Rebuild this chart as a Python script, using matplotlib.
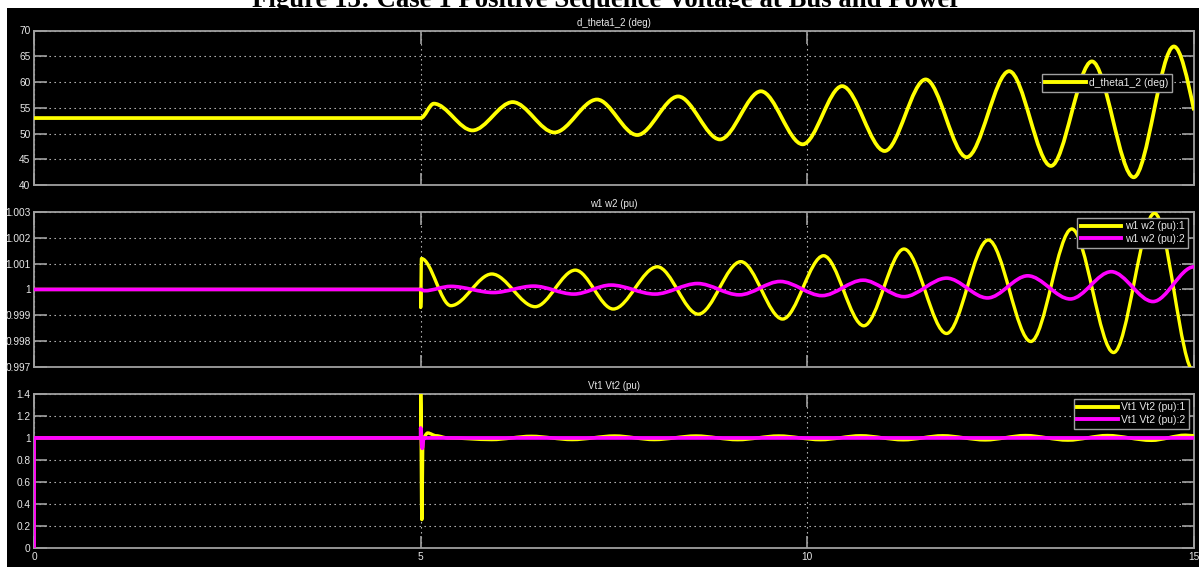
import matplotlib
matplotlib.use("Agg")
import matplotlib.pyplot as plt
from matplotlib.path import Path
from matplotlib.patches import PathPatch, Rectangle
from matplotlib.lines import Line2D

# ---------------- data ----------------
fig_title = "Figure 13: Case 1 Positive Sequence Voltage at Bus and Power"
x_ticks = [0, 5, 10, 15]
x_ticklabels = ["0", "5", "10", "15"]

theta_title = "d_theta1_2 (deg)"
theta_label = "d_theta1_2 (deg)"
theta_t = [0, 5.0, 5.17, 5.67, 6.19, 6.73, 7.28, 7.80, 8.33, 8.87, 9.40, 9.94,
           10.45, 11.00, 11.53, 12.06, 12.61, 13.15, 13.68, 14.22, 14.74, 15.0]
theta_v = [53.0, 53.0, 55.8, 50.6, 56.1, 50.2, 56.6, 49.7, 57.2, 48.85, 58.2, 47.9,
           59.2, 46.6, 60.5, 45.4, 62.1, 43.7, 64.0, 41.5, 66.9, 54.5]
theta_yticks = [40, 45, 50, 55, 60, 65, 70]
theta_yticklabels = ["40", "45", "50", "55", "60", "65", "70"]

w_title = "w1 w2 (pu)"
w_labels = ["w1 w2 (pu):1", "w1 w2 (pu):2"]
w1_t = [0, 5.0, 5.0, 5.01, 5.39, 5.92, 6.48, 7.0, 7.49, 8.06, 8.59, 9.14, 9.68,
        10.21, 10.73, 11.25, 11.80, 12.34, 12.89, 13.42, 13.96, 14.49, 15.0]
w1_v = [1.0, 1.0, 0.9993, 1.0012, 0.99937, 1.0006, 0.99933, 1.00075, 0.99924,
        1.00088, 0.99904, 1.00108, 0.99885, 1.00131, 0.99859, 1.00157, 0.99829,
        1.00192, 0.99798, 1.00235, 0.99755, 1.00296, 0.9968]
w2_t = [0, 5.0, 5.05, 5.39, 5.94, 6.46, 6.98, 7.46, 8.03, 8.58, 9.12, 9.65, 10.19,
        10.72, 11.25, 11.80, 12.33, 12.85, 13.40, 13.93, 14.47, 15.0]
w2_v = [1.0, 1.0, 0.99995, 1.00012, 0.99988, 1.00013, 0.99982, 1.00017, 0.99982,
        1.00023, 0.99979, 1.00031, 0.99976, 1.00036, 0.99972, 1.00044, 0.99967,
        1.00053, 0.99963, 1.00069, 0.99953, 1.00088]
w_yticks = [0.997, 0.998, 0.999, 1.0, 1.001, 1.002, 1.003]
w_yticklabels = ["0.997", "0.998", "0.999", "1", "1.001", "1.002", "1.003"]

vt_title = "Vt1 Vt2 (pu)"
vt_labels = ["Vt1 Vt2 (pu):1", "Vt1 Vt2 (pu):2"]
vt1_t = [0, 0, 5.0, 5.0, 5.015, 5.03, 5.09, 5.2, 5.35, 5.92, 6.43, 6.96, 7.51, 8.02,
         8.56, 9.10, 9.63, 10.17, 10.69, 11.24, 11.75, 12.30, 12.82, 13.37, 13.88,
         14.45, 14.89, 15.0]
vt1_v = [0.0, 1.0, 1.0, 1.45, 0.26, 1.0, 1.045, 1.02, 1.0, 0.985, 1.015, 0.985,
         1.018, 0.985, 1.018, 0.984, 1.018, 0.984, 1.02, 0.983, 1.02, 0.982, 1.022,
         0.98, 1.022, 0.978, 1.025, 1.02]
vt2_t = [0, 0, 5.0, 5.0, 5.02, 5.04, 15.0]
vt2_v = [0.0, 1.0, 1.0, 1.09, 0.906, 1.0, 1.0]
vt_yticks = [0, 0.2, 0.4, 0.6, 0.8, 1.0, 1.2, 1.4]
vt_yticklabels = ["0", "0.2", "0.4", "0.6", "0.8", "1", "1.2", "1.4"]

YELLOW = "#ffff00"
MAGENTA = "#ff00ff"
FRAME = "#a0a0a0"
TXT = "#e8e8e8"

plt.rcParams["font.family"] = ["Liberation Sans Narrow", "Liberation Sans", "DejaVu Sans"]


def smooth_path(t, v, end_swing=False):
    """Cubic Bezier segments between the read-off extrema (flat tangents)."""
    verts = [(t[0], v[0])]
    codes = [Path.MOVETO]
    n = len(t)
    for i in range(n - 1):
        t0, v0, t1, v1 = t[i], v[i], t[i + 1], v[i + 1]
        dt = t1 - t0
        s_end = 0.0
        if end_swing and i == n - 2 and dt > 0:
            s_end = 1.5 * (v1 - v0) / dt
        verts += [(t0 + dt / 3, v0), (t1 - dt / 3, v1 - s_end * dt / 3), (t1, v1)]
        codes += [Path.CURVE4] * 3
    return Path(verts, codes)


def draw(ax, t, v, color, lw, end_swing=False, z=3):
    ax.add_patch(PathPatch(smooth_path(t, v, end_swing), fill=False, edgecolor=color,
                           linewidth=lw, joinstyle="round", capstyle="butt", zorder=z))


fig = plt.figure(figsize=(11.99, 5.67), dpi=100, facecolor="white")
fig.add_artist(Rectangle((7 / 1199, 0), 1, (567 - 8) / 567, transform=fig.transFigure,
                         facecolor="black", edgecolor="none", zorder=0))
fig.text(0.506, 1 - 7 / 567, fig_title, ha="center", va="baseline", fontsize=19.3,
         fontweight="bold", family="Liberation Serif", color="black", zorder=-1)

L = 34 / 1199
W = (1194 - 34) / 1199
H = 154.5 / 567
bottoms = [(567 - 185) / 567, (567 - 366.7) / 567, (567 - 548.3) / 567]
axes = [fig.add_axes([L, b, W, H]) for b in bottoms]

specs = [
    (theta_title, theta_yticks, theta_yticklabels, (40, 70)),
    (w_title, w_yticks, w_yticklabels, (0.997, 1.003)),
    (vt_title, vt_yticks, vt_yticklabels, (0, 1.4)),
]

for i, (ax, (title, yt, ytl, ylim)) in enumerate(zip(axes, specs)):
    ax.set_facecolor("black")
    ax.set_xlim(0, 15)
    ax.set_ylim(*ylim)
    ax.set_xticks(x_ticks)
    ax.set_yticks(yt)
    ax.set_yticklabels(ytl)
    if i == 2:
        ax.set_xticklabels(x_ticklabels)
    else:
        ax.set_xticklabels([])
    for s in ax.spines.values():
        s.set_color(FRAME)
        s.set_linewidth(1.3)
    ax.tick_params(direction="in", length=9, width=1.2, color=FRAME, labelcolor=TXT,
                   labelsize=7.3, top=True, right=True, pad=2.5)
    ax.tick_params(axis="x", pad=2.5)
    ax.grid(True, color="#cfcfcf", linestyle=(0, (1.2, 3.3)), linewidth=0.8)
    ax.set_title(title, color=TXT, fontsize=7, pad=3.5)

ax1, ax2, ax3 = axes

draw(ax1, theta_t, theta_v, YELLOW, 2.7, end_swing=True)
draw(ax2, w1_t, w1_v, YELLOW, 2.4)
draw(ax2, w2_t, w2_v, MAGENTA, 2.6, z=4)
draw(ax3, vt1_t, vt1_v, YELLOW, 2.4)
draw(ax3, vt2_t, vt2_v, MAGENTA, 2.7, z=4)

leg_kw = dict(loc="upper right", fontsize=7.5, frameon=True, fancybox=False,
              facecolor="black", edgecolor=FRAME, framealpha=1, labelcolor=TXT,
              borderaxespad=0, handlelength=3.9, handletextpad=0.3,
              borderpad=0.35, labelspacing=0.25)

h1 = [Line2D([], [], color=YELLOW, lw=2.8, label=theta_label)]
lg = ax1.legend(handles=h1, bbox_to_anchor=(0.981, 0.716), **leg_kw)
lg.get_frame().set_linewidth(1.0)

h2 = [Line2D([], [], color=YELLOW, lw=2.8, label=w_labels[0]),
      Line2D([], [], color=MAGENTA, lw=2.8, label=w_labels[1])]
lg = ax2.legend(handles=h2, bbox_to_anchor=(0.9948, 0.965), **leg_kw)
lg.get_frame().set_linewidth(1.0)

h3 = [Line2D([], [], color=YELLOW, lw=2.8, label=vt_labels[0]),
      Line2D([], [], color=MAGENTA, lw=2.8, label=vt_labels[1])]
lg = ax3.legend(handles=h3, bbox_to_anchor=(0.9957, 0.9676), **leg_kw)
lg.get_frame().set_linewidth(1.0)

fig.savefig("out.png", dpi=100, facecolor="white")
